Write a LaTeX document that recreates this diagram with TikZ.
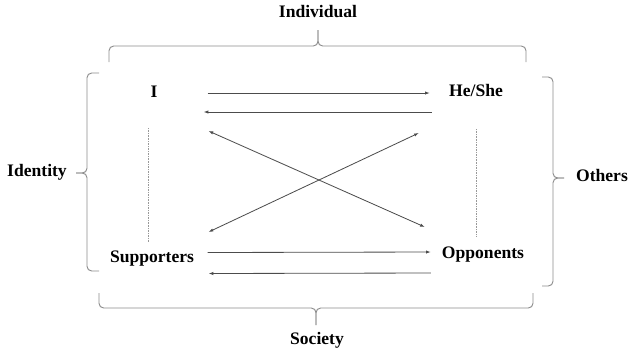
\documentclass[tikz,border=0pt]{standalone}
\usepackage{fontspec}
\setmainfont{Liberation Serif}
\usetikzlibrary{calc,arrows.meta}

\begin{document}
\begin{tikzpicture}[x=0.03cm,y=-0.03cm,
	every node/.style={font=\fontsize{15}{18}\selectfont\bfseries,text height=0.66em,text depth=0pt,inner sep=0pt},
	leftnode/.style={minimum width=3.2cm},
	rightnode/.style={minimum width=3cm},
	link/.style={draw=black!70,line width=0.7pt,-{Latex[length=4pt,width=2.8pt]}},
	twoway/.style={link,{Latex[length=4pt,width=2.8pt]}-{Latex[length=4pt,width=2.8pt]}},
	curly/.style={draw=black!45,line width=0.8pt,rounded corners=4},
	guide/.style={draw=black!40,line width=0.5pt,dash pattern=on 0.6pt off 0.8pt}]
\useasboundingbox (0,0) rectangle (629,352);

% the four positions
\node[leftnode]  (I)   at (154,94)   {I};
\node[rightnode] (HS)  at (476,93)   {He/She};
\node[leftnode]  (Sup) at (152,258.5) {Supporters};
\node[rightnode] (Opp) at (483,255)  {Opponents};

% group labels
\node (ind) at (318,14)  {Individual};
\node (idt) at (37,173)  {Identity};
\node (oth) at (602,178) {Others};
\node (soc) at (317,341) {Society};

% braces
\draw[curly] (109,62) -- (109,46) -- (318,46) -- (318,30);
\draw[curly] (526,62) -- (526,46) -- (318,46) -- (318,30);
\draw[curly] (99,73) -- (87,73) -- (87,173) -- (76,173);
\draw[curly] (99,271) -- (87,271) -- (87,173) -- (76,173);
\draw[curly] (542,77) -- (553,77) -- (553,178) -- (564,178);
\draw[curly] (542,286) -- (553,286) -- (553,178) -- (564,178);
\draw[curly] (99,293) -- (99,308) -- (316,308) -- (316,325);
\draw[curly] (533,293) -- (533,308) -- (316,308) -- (316,325);

% arrows
\draw[link] ($(I.east)+(0,-1)$) -- ($(HS.west)+(4,0)$);
\draw[link] ($(HS.west)+(6,19)$) -- ($(I.east)+(-4,18)$);
\draw[twoway] ($(I.east)+(1,37)$) -- ($(Opp.west)+(-8,-28)$);
\draw[twoway] ($(Sup.east)+(3,-26.5)$) -- ($(HS.west)+(-7,40)$);
\draw[link] ($(Sup.east)+(2,-6)$) -- ($(Opp.west)+(-2,-3)$);
\draw[link] ($(Opp.west)+(-2,18)$) -- ($(Sup.east)+(3,15)$);

% dotted guides
\draw[guide] ($(I)+(-6,34)$) -- ($(Sup)+(-4,-16)$);
\draw[guide] ($(HS)+(0,36)$) -- ($(Opp)+(-7,-18)$);
\end{tikzpicture}
\end{document}
